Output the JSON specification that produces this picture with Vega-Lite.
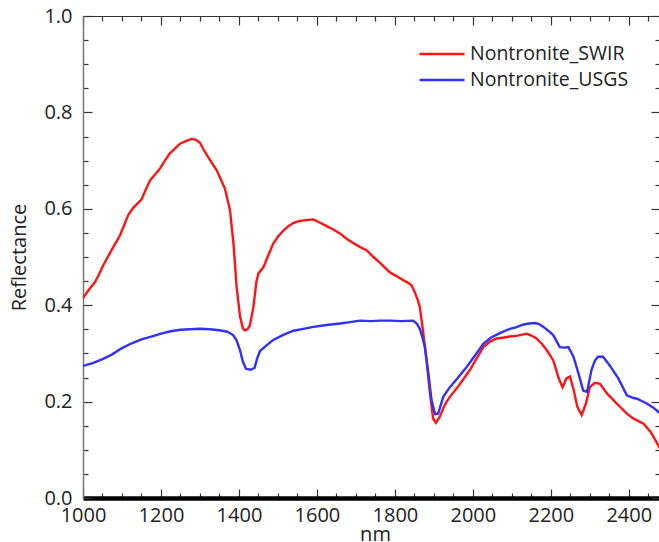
{
  "$schema": "https://vega.github.io/schema/vega-lite/v6.json",
  "width": 577,
  "height": 482,
  "autosize": {"type": "none"},
  "padding": {"left": 83, "top": 16, "right": 0, "bottom": 44},
  "background": "white",
  "config": {
    "view": {"stroke": null},
    "font": "Open Sans",
    "axis": {"grid": false, "labelFont": "Open Sans", "titleFont": "Open Sans", "labelColor": "#222", "titleColor": "#222", "titleFontWeight": "normal"}
  },
  "datasets": {
    "spec": [
      {"nm":1000,"v":0.415,"s":"Nontronite_SWIR"},{"nm":1015,"v":0.432,"s":"Nontronite_SWIR"},{"nm":1031,"v":0.448,"s":"Nontronite_SWIR"},{"nm":1040,"v":0.462,"s":"Nontronite_SWIR"},{"nm":1052,"v":0.483,"s":"Nontronite_SWIR"},{"nm":1065,"v":0.502,"s":"Nontronite_SWIR"},{"nm":1078,"v":0.521,"s":"Nontronite_SWIR"},{"nm":1095,"v":0.545,"s":"Nontronite_SWIR"},{"nm":1116,"v":0.587,"s":"Nontronite_SWIR"},{"nm":1129,"v":0.602,"s":"Nontronite_SWIR"},{"nm":1150,"v":0.619,"s":"Nontronite_SWIR"},{"nm":1160,"v":0.638,"s":"Nontronite_SWIR"},{"nm":1172,"v":0.659,"s":"Nontronite_SWIR"},{"nm":1197,"v":0.683,"s":"Nontronite_SWIR"},{"nm":1210,"v":0.700,"s":"Nontronite_SWIR"},{"nm":1223,"v":0.715,"s":"Nontronite_SWIR"},{"nm":1249,"v":0.735,"s":"Nontronite_SWIR"},{"nm":1265,"v":0.741,"s":"Nontronite_SWIR"},{"nm":1279,"v":0.745,"s":"Nontronite_SWIR"},{"nm":1290,"v":0.743,"s":"Nontronite_SWIR"},{"nm":1300,"v":0.737,"s":"Nontronite_SWIR"},{"nm":1310,"v":0.722,"s":"Nontronite_SWIR"},{"nm":1321,"v":0.707,"s":"Nontronite_SWIR"},{"nm":1343,"v":0.680,"s":"Nontronite_SWIR"},{"nm":1364,"v":0.642,"s":"Nontronite_SWIR"},{"nm":1377,"v":0.597,"s":"Nontronite_SWIR"},{"nm":1386,"v":0.528,"s":"Nontronite_SWIR"},{"nm":1394,"v":0.438,"s":"Nontronite_SWIR"},{"nm":1403,"v":0.376,"s":"Nontronite_SWIR"},{"nm":1410,"v":0.352,"s":"Nontronite_SWIR"},{"nm":1415,"v":0.348,"s":"Nontronite_SWIR"},{"nm":1422,"v":0.350,"s":"Nontronite_SWIR"},{"nm":1428,"v":0.358,"s":"Nontronite_SWIR"},{"nm":1437,"v":0.396,"s":"Nontronite_SWIR"},{"nm":1445,"v":0.450,"s":"Nontronite_SWIR"},{"nm":1450,"v":0.466,"s":"Nontronite_SWIR"},{"nm":1463,"v":0.479,"s":"Nontronite_SWIR"},{"nm":1475,"v":0.503,"s":"Nontronite_SWIR"},{"nm":1488,"v":0.528,"s":"Nontronite_SWIR"},{"nm":1500,"v":0.542,"s":"Nontronite_SWIR"},{"nm":1514,"v":0.555,"s":"Nontronite_SWIR"},{"nm":1527,"v":0.564,"s":"Nontronite_SWIR"},{"nm":1540,"v":0.571,"s":"Nontronite_SWIR"},{"nm":1552,"v":0.574,"s":"Nontronite_SWIR"},{"nm":1565,"v":0.576,"s":"Nontronite_SWIR"},{"nm":1578,"v":0.577,"s":"Nontronite_SWIR"},{"nm":1591,"v":0.578,"s":"Nontronite_SWIR"},{"nm":1608,"v":0.571,"s":"Nontronite_SWIR"},{"nm":1625,"v":0.564,"s":"Nontronite_SWIR"},{"nm":1642,"v":0.557,"s":"Nontronite_SWIR"},{"nm":1659,"v":0.549,"s":"Nontronite_SWIR"},{"nm":1676,"v":0.538,"s":"Nontronite_SWIR"},{"nm":1693,"v":0.529,"s":"Nontronite_SWIR"},{"nm":1710,"v":0.521,"s":"Nontronite_SWIR"},{"nm":1727,"v":0.514,"s":"Nontronite_SWIR"},{"nm":1745,"v":0.500,"s":"Nontronite_SWIR"},{"nm":1762,"v":0.488,"s":"Nontronite_SWIR"},{"nm":1787,"v":0.468,"s":"Nontronite_SWIR"},{"nm":1805,"v":0.460,"s":"Nontronite_SWIR"},{"nm":1821,"v":0.452,"s":"Nontronite_SWIR"},{"nm":1835,"v":0.446,"s":"Nontronite_SWIR"},{"nm":1843,"v":0.441,"s":"Nontronite_SWIR"},{"nm":1851,"v":0.427,"s":"Nontronite_SWIR"},{"nm":1858,"v":0.412,"s":"Nontronite_SWIR"},{"nm":1864,"v":0.396,"s":"Nontronite_SWIR"},{"nm":1872,"v":0.348,"s":"Nontronite_SWIR"},{"nm":1881,"v":0.286,"s":"Nontronite_SWIR"},{"nm":1890,"v":0.217,"s":"Nontronite_SWIR"},{"nm":1898,"v":0.165,"s":"Nontronite_SWIR"},{"nm":1905,"v":0.156,"s":"Nontronite_SWIR"},{"nm":1915,"v":0.168,"s":"Nontronite_SWIR"},{"nm":1925,"v":0.188,"s":"Nontronite_SWIR"},{"nm":1932,"v":0.199,"s":"Nontronite_SWIR"},{"nm":1945,"v":0.214,"s":"Nontronite_SWIR"},{"nm":1958,"v":0.227,"s":"Nontronite_SWIR"},{"nm":1975,"v":0.246,"s":"Nontronite_SWIR"},{"nm":1992,"v":0.265,"s":"Nontronite_SWIR"},{"nm":2010,"v":0.290,"s":"Nontronite_SWIR"},{"nm":2027,"v":0.313,"s":"Nontronite_SWIR"},{"nm":2045,"v":0.325,"s":"Nontronite_SWIR"},{"nm":2061,"v":0.331,"s":"Nontronite_SWIR"},{"nm":2080,"v":0.333,"s":"Nontronite_SWIR"},{"nm":2095,"v":0.335,"s":"Nontronite_SWIR"},{"nm":2115,"v":0.337,"s":"Nontronite_SWIR"},{"nm":2138,"v":0.341,"s":"Nontronite_SWIR"},{"nm":2150,"v":0.337,"s":"Nontronite_SWIR"},{"nm":2163,"v":0.331,"s":"Nontronite_SWIR"},{"nm":2177,"v":0.320,"s":"Nontronite_SWIR"},{"nm":2190,"v":0.306,"s":"Nontronite_SWIR"},{"nm":2206,"v":0.286,"s":"Nontronite_SWIR"},{"nm":2213,"v":0.268,"s":"Nontronite_SWIR"},{"nm":2219,"v":0.251,"s":"Nontronite_SWIR"},{"nm":2230,"v":0.230,"s":"Nontronite_SWIR"},{"nm":2240,"v":0.248,"s":"Nontronite_SWIR"},{"nm":2249,"v":0.252,"s":"Nontronite_SWIR"},{"nm":2259,"v":0.223,"s":"Nontronite_SWIR"},{"nm":2268,"v":0.189,"s":"Nontronite_SWIR"},{"nm":2279,"v":0.172,"s":"Nontronite_SWIR"},{"nm":2290,"v":0.196,"s":"Nontronite_SWIR"},{"nm":2300,"v":0.230,"s":"Nontronite_SWIR"},{"nm":2313,"v":0.239,"s":"Nontronite_SWIR"},{"nm":2326,"v":0.237,"s":"Nontronite_SWIR"},{"nm":2344,"v":0.217,"s":"Nontronite_SWIR"},{"nm":2369,"v":0.196,"s":"Nontronite_SWIR"},{"nm":2395,"v":0.175,"s":"Nontronite_SWIR"},{"nm":2410,"v":0.166,"s":"Nontronite_SWIR"},{"nm":2421,"v":0.161,"s":"Nontronite_SWIR"},{"nm":2438,"v":0.154,"s":"Nontronite_SWIR"},{"nm":2456,"v":0.137,"s":"Nontronite_SWIR"},{"nm":2466,"v":0.123,"s":"Nontronite_SWIR"},{"nm":2480,"v":0.103,"s":"Nontronite_SWIR"},
      {"nm":1000,"v":0.274,"s":"Nontronite_USGS"},{"nm":1025,"v":0.280,"s":"Nontronite_USGS"},{"nm":1050,"v":0.288,"s":"Nontronite_USGS"},{"nm":1075,"v":0.298,"s":"Nontronite_USGS"},{"nm":1100,"v":0.311,"s":"Nontronite_USGS"},{"nm":1125,"v":0.321,"s":"Nontronite_USGS"},{"nm":1150,"v":0.329,"s":"Nontronite_USGS"},{"nm":1175,"v":0.335,"s":"Nontronite_USGS"},{"nm":1200,"v":0.341,"s":"Nontronite_USGS"},{"nm":1225,"v":0.346,"s":"Nontronite_USGS"},{"nm":1250,"v":0.349,"s":"Nontronite_USGS"},{"nm":1275,"v":0.350,"s":"Nontronite_USGS"},{"nm":1300,"v":0.351,"s":"Nontronite_USGS"},{"nm":1325,"v":0.350,"s":"Nontronite_USGS"},{"nm":1350,"v":0.348,"s":"Nontronite_USGS"},{"nm":1370,"v":0.345,"s":"Nontronite_USGS"},{"nm":1385,"v":0.338,"s":"Nontronite_USGS"},{"nm":1394,"v":0.327,"s":"Nontronite_USGS"},{"nm":1403,"v":0.306,"s":"Nontronite_USGS"},{"nm":1410,"v":0.283,"s":"Nontronite_USGS"},{"nm":1418,"v":0.268,"s":"Nontronite_USGS"},{"nm":1430,"v":0.266,"s":"Nontronite_USGS"},{"nm":1440,"v":0.270,"s":"Nontronite_USGS"},{"nm":1447,"v":0.290,"s":"Nontronite_USGS"},{"nm":1454,"v":0.305,"s":"Nontronite_USGS"},{"nm":1470,"v":0.316,"s":"Nontronite_USGS"},{"nm":1488,"v":0.328,"s":"Nontronite_USGS"},{"nm":1515,"v":0.339,"s":"Nontronite_USGS"},{"nm":1540,"v":0.347,"s":"Nontronite_USGS"},{"nm":1565,"v":0.351,"s":"Nontronite_USGS"},{"nm":1591,"v":0.355,"s":"Nontronite_USGS"},{"nm":1625,"v":0.359,"s":"Nontronite_USGS"},{"nm":1659,"v":0.362,"s":"Nontronite_USGS"},{"nm":1685,"v":0.365,"s":"Nontronite_USGS"},{"nm":1710,"v":0.368,"s":"Nontronite_USGS"},{"nm":1740,"v":0.367,"s":"Nontronite_USGS"},{"nm":1762,"v":0.368,"s":"Nontronite_USGS"},{"nm":1787,"v":0.368,"s":"Nontronite_USGS"},{"nm":1815,"v":0.367,"s":"Nontronite_USGS"},{"nm":1847,"v":0.368,"s":"Nontronite_USGS"},{"nm":1856,"v":0.362,"s":"Nontronite_USGS"},{"nm":1864,"v":0.351,"s":"Nontronite_USGS"},{"nm":1870,"v":0.335,"s":"Nontronite_USGS"},{"nm":1877,"v":0.313,"s":"Nontronite_USGS"},{"nm":1886,"v":0.258,"s":"Nontronite_USGS"},{"nm":1894,"v":0.203,"s":"Nontronite_USGS"},{"nm":1903,"v":0.174,"s":"Nontronite_USGS"},{"nm":1911,"v":0.175,"s":"Nontronite_USGS"},{"nm":1924,"v":0.210,"s":"Nontronite_USGS"},{"nm":1941,"v":0.230,"s":"Nontronite_USGS"},{"nm":1960,"v":0.248,"s":"Nontronite_USGS"},{"nm":1984,"v":0.272,"s":"Nontronite_USGS"},{"nm":2005,"v":0.295,"s":"Nontronite_USGS"},{"nm":2027,"v":0.320,"s":"Nontronite_USGS"},{"nm":2045,"v":0.332,"s":"Nontronite_USGS"},{"nm":2069,"v":0.342,"s":"Nontronite_USGS"},{"nm":2095,"v":0.351,"s":"Nontronite_USGS"},{"nm":2110,"v":0.354,"s":"Nontronite_USGS"},{"nm":2130,"v":0.360,"s":"Nontronite_USGS"},{"nm":2145,"v":0.362,"s":"Nontronite_USGS"},{"nm":2160,"v":0.363,"s":"Nontronite_USGS"},{"nm":2170,"v":0.361,"s":"Nontronite_USGS"},{"nm":2181,"v":0.355,"s":"Nontronite_USGS"},{"nm":2195,"v":0.346,"s":"Nontronite_USGS"},{"nm":2206,"v":0.338,"s":"Nontronite_USGS"},{"nm":2215,"v":0.325,"s":"Nontronite_USGS"},{"nm":2223,"v":0.313,"s":"Nontronite_USGS"},{"nm":2235,"v":0.312,"s":"Nontronite_USGS"},{"nm":2245,"v":0.313,"s":"Nontronite_USGS"},{"nm":2258,"v":0.293,"s":"Nontronite_USGS"},{"nm":2271,"v":0.258,"s":"Nontronite_USGS"},{"nm":2283,"v":0.223,"s":"Nontronite_USGS"},{"nm":2293,"v":0.220,"s":"Nontronite_USGS"},{"nm":2304,"v":0.265,"s":"Nontronite_USGS"},{"nm":2313,"v":0.285,"s":"Nontronite_USGS"},{"nm":2321,"v":0.293,"s":"Nontronite_USGS"},{"nm":2334,"v":0.293,"s":"Nontronite_USGS"},{"nm":2351,"v":0.275,"s":"Nontronite_USGS"},{"nm":2373,"v":0.248,"s":"Nontronite_USGS"},{"nm":2395,"v":0.213,"s":"Nontronite_USGS"},{"nm":2410,"v":0.208,"s":"Nontronite_USGS"},{"nm":2421,"v":0.206,"s":"Nontronite_USGS"},{"nm":2446,"v":0.196,"s":"Nontronite_USGS"},{"nm":2462,"v":0.188,"s":"Nontronite_USGS"},{"nm":2480,"v":0.176,"s":"Nontronite_USGS"}
    ]
  },
  "data": {"name": "spec"},
  "resolve": {"axis": {"x": "independent", "y": "independent"}},
  "layer": [
    {
      "mark": {"type": "line", "strokeWidth": 2.4, "clip": true},
      "encoding": {
        "x": {"field": "nm", "type": "quantitative", "scale": {"domain": [1000, 2480], "nice": false, "zero": false},
          "axis": {"orient": "bottom", "title": "nm", "titleFontSize": 20, "titleX": 292, "titleY": 36, "titleBaseline": "middle", "titleAlign": "center",
            "values": [1000,1050,1100,1150,1200,1250,1300,1350,1400,1450,1500,1550,1600,1650,1700,1750,1800,1850,1900,1950,2000,2050,2100,2150,2200,2250,2300,2350,2400,2450],
            "labelExpr": "datum.value % 200 == 0 ? format(datum.value, 'd') : ''",
            "labelFontSize": 20, "labelPadding": 16, "labelFlush": false, "labelOverlap": false, "labelBaseline": "top",
            "domainColor": "#000", "domainWidth": 4.5, "domainCap": "butt",
            "tickColor": "#333", "tickWidth": 1.2,
            "tickSize": {"condition": {"test": "datum.value % 200 == 0", "value": -9}, "value": -5}}},
        "y": {"field": "v", "type": "quantitative", "scale": {"domain": [0, 1], "nice": false},
          "axis": {"orient": "left", "title": "Reflectance", "titleFontSize": 20, "titleX": -64, "titleY": 241, "titleAngle": -90, "titleBaseline": "middle", "titleAlign": "center",
            "values": [0,0.05,0.1,0.15,0.2,0.25,0.3,0.35,0.4,0.45,0.5,0.55,0.6,0.65,0.7,0.75,0.8,0.85,0.9,0.95,1.0],
            "labelExpr": "round(datum.value*100) % 20 == 0 ? format(datum.value, '.1f') : ''",
            "labelFontSize": 20, "labelPadding": 20, "labelOverlap": false, "labelFlush": false,
            "domainColor": "#777", "domainWidth": 1.5,
            "tickColor": "#333", "tickWidth": 1.2,
            "tickSize": {"condition": {"test": "round(datum.value*100) % 20 == 0", "value": -9}, "value": -5}}},
        "color": {"field": "s", "type": "nominal", "scale": {"domain": ["Nontronite_SWIR", "Nontronite_USGS"], "range": ["#ff1414", "#3030ff"]},
          "legend": {"title": null, "orient": "none", "legendX": 335, "legendY": 28, "symbolType": "stroke", "symbolSize": 2025, "symbolStrokeWidth": 2.5,
            "clipHeight": 20, "labelFontSize": 19.5, "labelFont": "Open Sans", "labelColor": "#222", "labelOffset": 4, "rowPadding": 6}}
      }
    },
    {
      "mark": {"type": "line", "opacity": 0},
      "encoding": {
        "x": {"field": "nm", "type": "quantitative",
          "axis": {"orient": "top", "title": null, "labels": false, "domainColor": "#333", "domainWidth": 1.2,
            "values": [1000,1050,1100,1150,1200,1250,1300,1350,1400,1450,1500,1550,1600,1650,1700,1750,1800,1850,1900,1950,2000,2050,2100,2150,2200,2250,2300,2350,2400,2450],
            "tickColor": "#333", "tickWidth": 1.2,
            "tickSize": {"condition": {"test": "datum.value % 200 == 0", "value": -9}, "value": -5}}},
        "y": {"field": "v", "type": "quantitative",
          "axis": {"orient": "right", "title": null, "labels": false, "domain": false,
            "values": [0,0.05,0.1,0.15,0.2,0.25,0.3,0.35,0.4,0.45,0.5,0.55,0.6,0.65,0.7,0.75,0.8,0.85,0.9,0.95,1.0],
            "tickColor": "#333", "tickWidth": 1.2,
            "tickSize": {"condition": {"test": "round(datum.value*100) % 20 == 0", "value": -9}, "value": -5}}},
        "detail": {"field": "s", "type": "nominal"}
      }
    }
  ]
}
